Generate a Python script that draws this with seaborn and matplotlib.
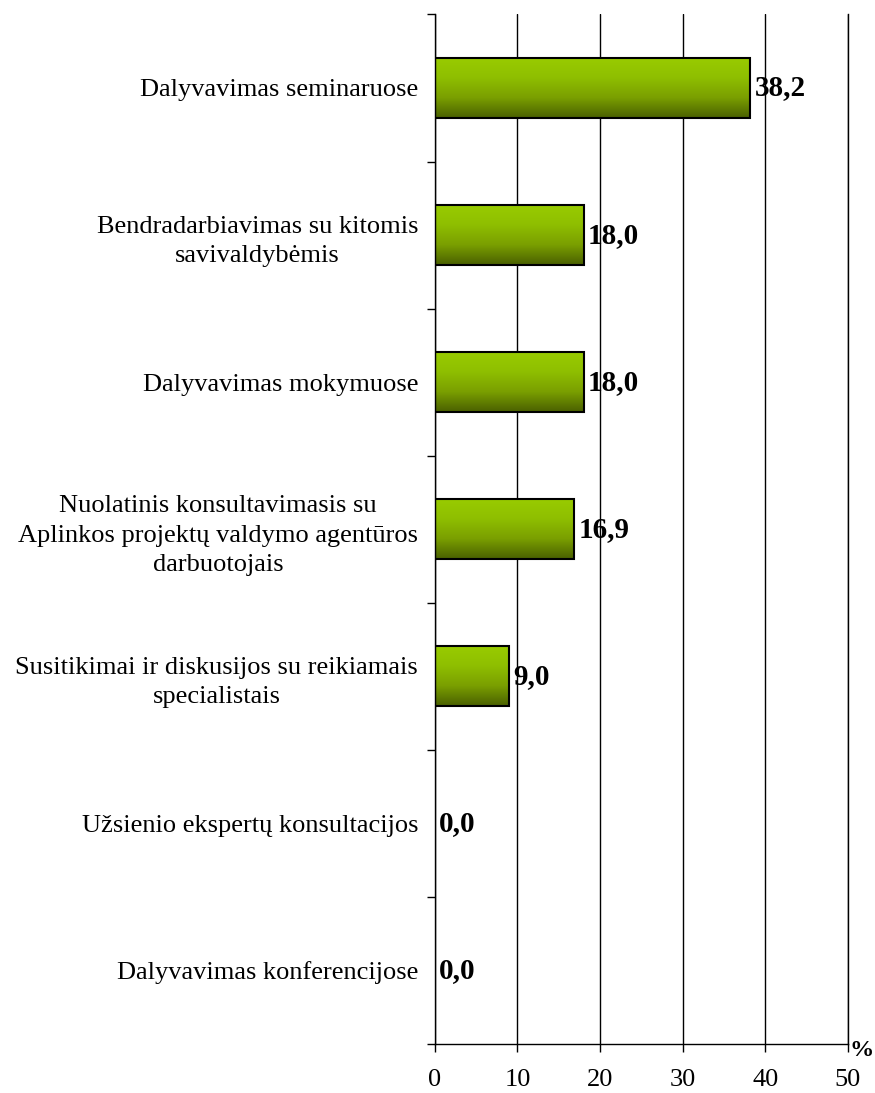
import numpy as np
import pandas as pd
import matplotlib
matplotlib.use("Agg")
import matplotlib.pyplot as plt
from matplotlib.colors import LinearSegmentedColormap
import seaborn as sns

# Data
categories = [
    "Dalyvavimas seminaruose",
    "Bendradarbiavimas su kitomis\nsavivaldybėmis",
    "Dalyvavimas mokymuose",
    "Nuolatinis konsultavimasis su\nAplinkos projektų valdymo agentūros\ndarbuotojais",
    "Susitikimai ir diskusijos su reikiamais\nspecialistais",
    "Užsienio ekspertų konsultacijos",
    "Dalyvavimas konferencijose",
]
values = [38.2, 18.0, 18.0, 16.9, 9.0, 0.0, 0.0]
x_ticks = [0, 10, 20, 30, 40, 50]

df = pd.DataFrame({"category": categories, "value": values})

sns.set_style("white")
plt.rcParams["font.family"] = ["Liberation Serif", "DejaVu Serif"]
plt.rcParams["text.color"] = "black"
plt.rcParams["xtick.color"] = "black"
plt.rcParams["ytick.color"] = "black"

fig = plt.figure(figsize=(8.75, 10.93), dpi=100)
ax = fig.add_axes([0.497, 0.0448, 0.472, 0.942])

sns.barplot(data=df, x="value", y="category", orient="h", width=0.41,
            color="#88b400", edgecolor="black", linewidth=1.5, ax=ax)

# gradient fill: light green on top, dark olive at bottom
cmap = LinearSegmentedColormap.from_list("g", ["#99cc00", "#8fbf00", "#7a9f00", "#4a6000"])
grad = np.linspace(0, 1, 256).reshape(-1, 1)
for p in ax.patches:
    x0, y0 = p.get_x(), p.get_y()
    w, h = p.get_width(), p.get_height()
    if w <= 0:
        p.set_visible(False)
        continue
    im = ax.imshow(grad, cmap=cmap, aspect="auto",
                   extent=[x0, x0 + w, y0 + h, y0], zorder=p.get_zorder() - 0.1)
    im.set_clip_path(p)
    p.set_facecolor("none")
ax.set_xlim(0, 50)
ax.set_ylim(6.5, -0.5)

# value labels
for i, v in enumerate(values):
    ax.annotate(f"{v:.1f}".replace(".", ","), (v, i), xytext=(3, 0),
                textcoords="offset points", va="center", ha="left",
                fontsize=21, fontweight="bold")

# grid and spines
ax.set_xticks(x_ticks)
ax.xaxis.grid(True, color="black", linewidth=1)
ax.yaxis.grid(False)
ax.set_axisbelow(True)
ax.spines["top"].set_visible(False)
for s in ["left", "bottom", "right"]:
    ax.spines[s].set_color("black")
    ax.spines[s].set_linewidth(1)

ax.tick_params(axis="x", direction="out", length=6, width=1, colors="black",
               labelsize=19, pad=12, bottom=True)
ax.set_yticks(range(len(categories)))
ax.set_yticklabels(categories)
ax.set_yticks(np.arange(-0.5, len(categories), 1), minor=True)
ax.tick_params(axis="y", which="major", length=0, labelsize=19, pad=12)
ax.tick_params(axis="y", which="minor", length=6, width=1, color="black", left=True)
for t in ax.get_yticklabels():
    t.set_multialignment("center")
    t.set_linespacing(1.45)

ax.set_xlabel("")
ax.set_ylabel("")
ax.annotate("%", (1.0, 0.0), xycoords="axes fraction", xytext=(1, -5),
            textcoords="offset points", ha="left", va="center",
            fontsize=17.5, fontweight="bold")

fig.savefig("out.png", dpi=100)
